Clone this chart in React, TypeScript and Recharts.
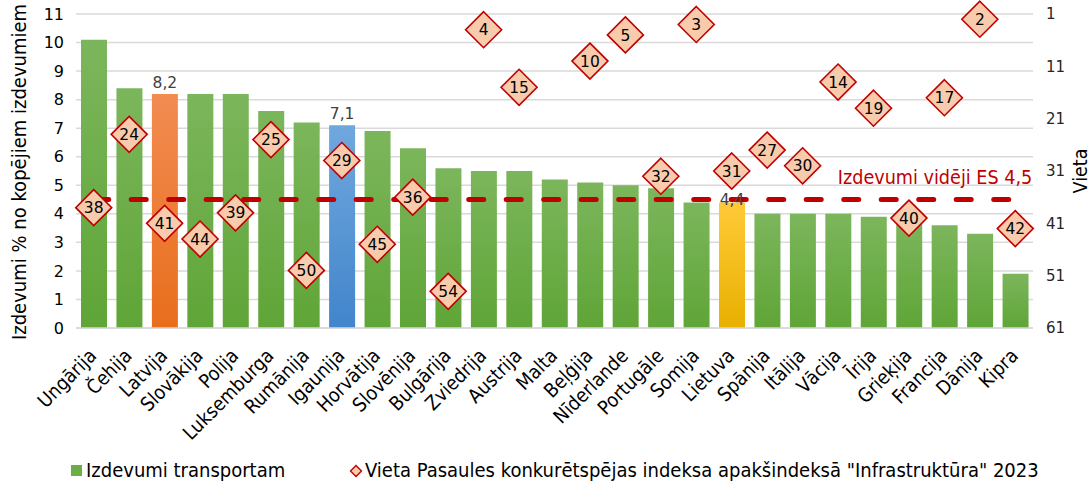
import React from 'react';
import {
  ComposedChart, Bar, Line, XAxis, YAxis, CartesianGrid, ReferenceLine, Cell, LabelList, Legend,
} from 'recharts';

const countries = [
  'Ungārija', 'Čehija', 'Latvija', 'Slovākija', 'Polija', 'Luksemburga', 'Rumānija', 'Igaunija',
  'Horvātija', 'Slovēnija', 'Bulgārija', 'Zviedrija', 'Austrija', 'Malta', 'Beļģija', 'Nīderlande',
  'Portugāle', 'Somija', 'Lietuva', 'Spānija', 'Itālija', 'Vācija', 'Īrija', 'Grieķija', 'Francija',
  'Dānija', 'Kipra',
];
const spending = [
  10.1, 8.4, 8.2, 8.2, 8.2, 7.6, 7.2, 7.1, 6.9, 6.3, 5.6, 5.5, 5.5, 5.2, 5.1, 5.0,
  4.9, 4.4, 4.4, 4.0, 4.0, 4.0, 3.9, 3.8, 3.6, 3.3, 1.9,
];
const rank: (number | null)[] = [
  38, 24, 41, 44, 39, 25, 50, 29, 45, 36, 54, 4, 15, null, 10, 5,
  32, 3, 31, 27, 30, 14, 19, 40, 17, 2, 42,
];
const barLabels: Record<string, string> = { Latvija: '8,2', Igaunija: '7,1', Lietuva: '4,4' };
const highlight: Record<string, string> = { Latvija: 'orange', Igaunija: 'blue', Lietuva: 'yellow' };
const euAverage = 4.5;
const euAverageLabel = 'Izdevumi vidēji ES 4,5';
const leftTicks = [0, 1, 2, 3, 4, 5, 6, 7, 8, 9, 10, 11];
const rightTicks = [1, 11, 21, 31, 41, 51, 61];
const leftAxisTitle = 'Izdevumi % no kopējiem izdevumiem';
const rightAxisTitle = 'Vieta';
const legendBar = 'Izdevumi transportam';
const legendRank = 'Vieta Pasaules konkurētspējas indeksa apakšindeksā "Infrastruktūra" 2023';

const data = countries.map((c, i) => ({ country: c, spending: spending[i], rank: rank[i] }));

const FONT = "'DejaVu Sans Condensed', 'DejaVu Sans', sans-serif";
const NUMFONT = "'DejaVu Sans', sans-serif";

const Diamond = (props: any) => {
  const { cx, cy, value, index } = props;
  if (value == null || cx == null || cy == null) return <g key={`d-${index}`} />;
  const s = 18;
  return (
    <g key={`d-${index}`}>
      <polygon
        points={`${cx},${cy - s} ${cx + s},${cy} ${cx},${cy + s} ${cx - s},${cy}`}
        fill="#F8CBAD"
        stroke="#C00000"
        strokeWidth={1.6}
      />
      <text x={cx} y={cy} dy="0.36em" textAnchor="middle" fontFamily={NUMFONT} fontSize={15.5} fill="#000">
        {value}
      </text>
    </g>
  );
};

const XTick = (props: any) => {
  const { x, y, payload } = props;
  const ax = x + 4;
  const ay = y + 29;
  return (
    <text
      x={ax}
      y={ay}
      textAnchor="end"
      transform={`rotate(-45, ${ax}, ${ay})`}
      fontFamily={FONT}
      fontSize={19.5}
      fill="#000"
    >
      {payload.value}
    </text>
  );
};

const BarValueLabel = (props: any) => {
  const { x, y, width, index } = props;
  const name = countries[index];
  const txt = barLabels[name];
  if (!txt) return null;
  const lift = name === 'Lietuva' ? 3 : 12;
  return (
    <text x={x + width / 2} y={y - lift} dy="0.36em" textAnchor="middle" fontFamily={NUMFONT} fontSize={15.5} fill="#404040">
      {txt}
    </text>
  );
};

const LeftTitle = (props: any) => {
  const vb = props.viewBox;
  const x = vb.x + 26;
  const y = vb.y + vb.height / 2 + 1;
  return (
    <text x={x} y={y} transform={`rotate(-90, ${x}, ${y})`} textAnchor="middle" fontFamily={FONT} fontSize={20} fill="#000">
      {leftAxisTitle}
    </text>
  );
};

const RightTitle = (props: any) => {
  const vb = props.viewBox;
  const x = vb.x + 54;
  const y = vb.y + vb.height / 2;
  return (
    <text x={x} y={y} transform={`rotate(-90, ${x}, ${y})`} textAnchor="middle" fontFamily={FONT} fontSize={19.5} fill="#000">
      {rightAxisTitle}
    </text>
  );
};

const AvgLabel = (props: any) => {
  const vb = props.viewBox || {};
  const xEnd = (vb.x ?? 0) + (vb.width ?? 0) + 17;
  const y = (vb.y ?? 0) - 15.5;
  return (
    <text x={xEnd} y={y} textAnchor="end" fontFamily={FONT} fontSize={19.6} fill="#C00000">
      {euAverageLabel}
    </text>
  );
};

const LegendContent = () => (
  <div style={{ position: 'relative', width: 1091, height: 30, fontFamily: FONT, fontSize: 20, color: '#000' }}>
    <div style={{ position: 'absolute', left: 71, top: 13, width: 11, height: 11, background: '#6AAE45' }} />
    <div style={{ position: 'absolute', left: 86, top: 6, lineHeight: '24px', whiteSpace: 'nowrap' }}>{legendBar}</div>
    <svg style={{ position: 'absolute', left: 349, top: 12 }} width={14} height={14}>
      <polygon points="7,1.5 12.5,7 7,12.5 1.5,7" fill="#F8CBAD" stroke="#C00000" strokeWidth={1.4} />
    </svg>
    <div style={{ position: 'absolute', left: 365, top: 6, lineHeight: '24px', whiteSpace: 'nowrap' }}>{legendRank}</div>
  </div>
);

export default function App() {
  return (
    <div style={{ position: 'absolute', left: 0, top: 0 }}>
      <ComposedChart
        width={1091}
        height={486}
        data={data}
        margin={{ top: 14, right: 0, bottom: 4, left: 0 }}
        barSize={26}
      >
        <defs>
          <linearGradient id="gGreen" x1="0" y1="0" x2="0" y2="1">
            <stop offset="0%" stopColor="#7CB65C" />
            <stop offset="100%" stopColor="#5FA537" />
          </linearGradient>
          <linearGradient id="gOrange" x1="0" y1="0" x2="0" y2="1">
            <stop offset="0%" stopColor="#F28C52" />
            <stop offset="100%" stopColor="#E86E1C" />
          </linearGradient>
          <linearGradient id="gBlue" x1="0" y1="0" x2="0" y2="1">
            <stop offset="0%" stopColor="#70A8DE" />
            <stop offset="100%" stopColor="#4285CB" />
          </linearGradient>
          <linearGradient id="gYellow" x1="0" y1="0" x2="0" y2="1">
            <stop offset="0%" stopColor="#FFCA38" />
            <stop offset="100%" stopColor="#E8B000" />
          </linearGradient>
        </defs>
        <CartesianGrid vertical={false} stroke="#D9D9D9" strokeWidth={1.5} yAxisId="left" />
        <XAxis
          dataKey="country"
          interval={0}
          height={124}
          tick={<XTick />}
          tickLine={false}
          axisLine={{ stroke: '#D9D9D9', strokeWidth: 1.5 }}
          tickSize={0}
          tickMargin={0}
        />
        <YAxis
          yAxisId="left"
          orientation="left"
          width={76}
          domain={[0, 11]}
          ticks={leftTicks}
          interval={0}
          axisLine={false}
          tickLine={false}
          tickSize={0}
          tickMargin={12}
          tick={{ fontFamily: NUMFONT, fontSize: 16, fill: '#000' }}
          label={<LeftTitle />}
        />
        <YAxis
          yAxisId="right"
          orientation="right"
          width={58}
          domain={[1, 61]}
          reversed
          ticks={rightTicks}
          interval={0}
          axisLine={false}
          tickLine={false}
          tickSize={0}
          tickMargin={13}
          tick={{ fontFamily: NUMFONT, fontSize: 15, fill: '#262626' }}
          label={<RightTitle />}
        />
        <Bar yAxisId="left" dataKey="spending" isAnimationActive={false}>
          {data.map((d) => {
            const h = highlight[d.country];
            const fill = h === 'orange' ? 'url(#gOrange)' : h === 'blue' ? 'url(#gBlue)' : h === 'yellow' ? 'url(#gYellow)' : 'url(#gGreen)';
            return <Cell key={d.country} fill={fill} />;
          })}
          <LabelList dataKey="spending" content={<BarValueLabel />} />
        </Bar>
        <ReferenceLine
          yAxisId="left"
          segment={[{ x: countries[0], y: euAverage }, { x: countries[countries.length - 1], y: euAverage }]}
          stroke="#C00000"
          strokeWidth={5}
          strokeDasharray="15 22.5"
          strokeLinecap="round"
          label={<AvgLabel />}
        />
        <Line
          yAxisId="right"
          dataKey="rank"
          stroke="none"
          isAnimationActive={false}
          dot={<Diamond />}
          activeDot={false}
          legendType="diamond"
        />
        <Legend verticalAlign="bottom" align="left" wrapperStyle={{ left: 0, width: 1091 }} content={<LegendContent />} />
      </ComposedChart>
    </div>
  );
}
